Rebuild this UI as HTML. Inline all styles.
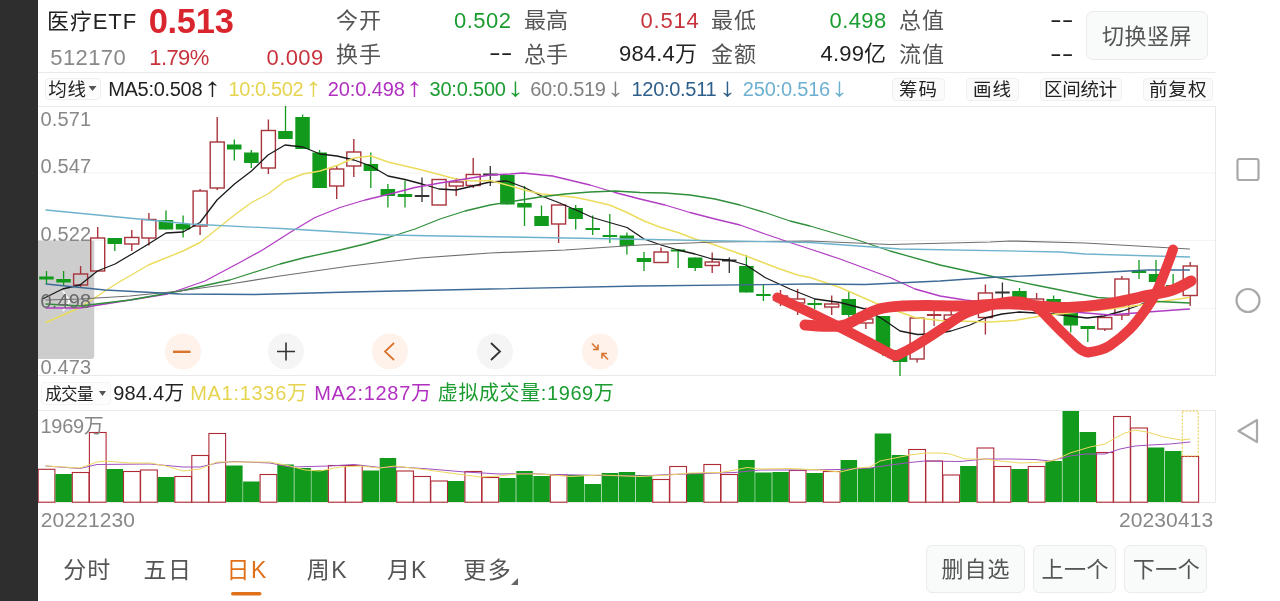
<!DOCTYPE html>
<html lang="zh-CN"><head><meta charset="utf-8"><title>医疗ETF 512170</title>
<style>
html,body{margin:0;padding:0;}
body{width:1280px;height:601px;overflow:hidden;background:#fff;position:relative;font-family:"Liberation Sans","Noto Sans CJK SC",sans-serif;color:#222;}
.bar{position:absolute;left:0;top:0;width:38px;height:601px;background:#2e2e2e;}
.chart{position:absolute;left:0;top:0;}
.t{position:absolute;white-space:nowrap;line-height:1;}
.r{text-align:right;}
.btn{position:absolute;box-sizing:border-box;border:1px solid #ececec;border-radius:5px;background:#fafafa;color:#222;text-align:center;white-space:nowrap;}
.red{color:#d0303a;}.green{color:#1b9c30;}.gray{color:#8a8a8a;}.dg{color:#555;}
</style></head>
<body>
<div class="btn" style="left:1086px;top:11px;width:121.5px;height:49px;border-radius:7px;background:#f9fafa;border-color:#ebebeb;"></div>
<div class="btn" style="left:44.5px;top:77.5px;width:56.5px;height:22.0px;border-radius:4px;background:#fcfcfc;border-color:#eeeeee;"></div>
<div class="btn" style="left:892px;top:78px;width:52.5px;height:23px;border-radius:4px;background:#fbfbfb;border-color:#f0f0f0;"></div>
<div class="btn" style="left:965.5px;top:78px;width:53.5px;height:23px;border-radius:4px;background:#fbfbfb;border-color:#f0f0f0;"></div>
<div class="btn" style="left:1040px;top:78px;width:82px;height:23px;border-radius:4px;background:#fbfbfb;border-color:#f0f0f0;"></div>
<div class="btn" style="left:1143px;top:78px;width:70px;height:23px;border-radius:4px;background:#fbfbfb;border-color:#f0f0f0;"></div>
<div class="btn" style="left:40.5px;top:381.5px;width:70.0px;height:23.5px;border-radius:4px;background:#fdfdfd;border-color:#f4f4f4;"></div>
<div class="btn" style="left:926.25px;top:545px;width:98.25px;height:47.5px;border-radius:6px;background:#f9fafa;border-color:#ebebeb;"></div>
<div class="btn" style="left:1033.25px;top:545px;width:82.25px;height:47.5px;border-radius:6px;background:#f9fafa;border-color:#ebebeb;"></div>
<div class="btn" style="left:1124.25px;top:545px;width:82.75px;height:47.5px;border-radius:6px;background:#f9fafa;border-color:#ebebeb;"></div>
<svg class="chart" width="1280" height="601" viewBox="0 0 1280 601">
<g stroke="#e9e9e9" stroke-width="1" fill="none">
<line x1="38" y1="72.5" x2="1215.5" y2="72.5"/>
<line x1="38" y1="106.5" x2="1215.5" y2="106.5"/>
<line x1="38" y1="173" x2="1215.5" y2="173" stroke="#f3f3f3"/>
<line x1="38" y1="240.5" x2="1215.5" y2="240.5" stroke="#f3f3f3"/>
<line x1="38" y1="308.5" x2="1215.5" y2="308.5" stroke="#f3f3f3"/>
<line x1="38" y1="375.5" x2="1215.5" y2="375.5"/>
<line x1="38" y1="410.5" x2="1215.5" y2="410.5"/>
<line x1="38" y1="502.5" x2="1215.5" y2="502.5"/>
<line x1="1215.5" y1="106.5" x2="1215.5" y2="375.5"/>
<line x1="1215.5" y1="410.5" x2="1215.5" y2="502.5"/>
</g>
<path d="M38,240.5 H94.2 V356 Q94.2,359 91.2,359 H38 Z" fill="#cdcdcd"/>
<polyline points="63,291 69.6,301 63,311" fill="none" stroke="#fff" stroke-width="1.6"/>
<g>
<line x1="46.5" y1="271" x2="46.5" y2="284" stroke="#119a1c" stroke-width="1.3"/>
<rect x="39.2" y="276.5" width="14.5" height="3.0" fill="#119a1c"/>
<line x1="63.6" y1="271" x2="63.6" y2="286" stroke="#119a1c" stroke-width="1.3"/>
<rect x="56.3" y="279" width="14.5" height="3.5" fill="#119a1c"/>
<line x1="80.6" y1="266" x2="80.6" y2="274" stroke="#a8343c" stroke-width="1.4"/>
<line x1="80.6" y1="285" x2="80.6" y2="287" stroke="#a8343c" stroke-width="1.4"/>
<rect x="73.6" y="274" width="14" height="11.0" fill="none" stroke="#a8343c" stroke-width="1.4"/>
<line x1="97.7" y1="227" x2="97.7" y2="238" stroke="#a8343c" stroke-width="1.4"/>
<line x1="97.7" y1="271" x2="97.7" y2="271" stroke="#a8343c" stroke-width="1.4"/>
<rect x="90.7" y="238" width="14" height="33.0" fill="none" stroke="#a8343c" stroke-width="1.4"/>
<line x1="114.8" y1="238" x2="114.8" y2="251" stroke="#119a1c" stroke-width="1.3"/>
<rect x="107.5" y="238" width="14.5" height="6.0" fill="#119a1c"/>
<line x1="131.8" y1="230" x2="131.8" y2="237.5" stroke="#a8343c" stroke-width="1.4"/>
<line x1="131.8" y1="244" x2="131.8" y2="251" stroke="#a8343c" stroke-width="1.4"/>
<rect x="124.8" y="237.5" width="14" height="6.5" fill="none" stroke="#a8343c" stroke-width="1.4"/>
<line x1="148.9" y1="213" x2="148.9" y2="219.5" stroke="#a8343c" stroke-width="1.4"/>
<line x1="148.9" y1="238" x2="148.9" y2="245.5" stroke="#a8343c" stroke-width="1.4"/>
<rect x="141.9" y="219.5" width="14" height="18.5" fill="none" stroke="#a8343c" stroke-width="1.4"/>
<line x1="166.0" y1="210.5" x2="166.0" y2="229.5" stroke="#119a1c" stroke-width="1.3"/>
<rect x="158.7" y="220" width="14.5" height="9.5" fill="#119a1c"/>
<line x1="183.1" y1="215.5" x2="183.1" y2="237.5" stroke="#119a1c" stroke-width="1.3"/>
<rect x="175.8" y="224" width="14.5" height="5.5" fill="#119a1c"/>
<line x1="200.1" y1="189" x2="200.1" y2="191" stroke="#a8343c" stroke-width="1.4"/>
<line x1="200.1" y1="226" x2="200.1" y2="235" stroke="#a8343c" stroke-width="1.4"/>
<rect x="193.1" y="191" width="14" height="35.0" fill="none" stroke="#a8343c" stroke-width="1.4"/>
<line x1="217.2" y1="117" x2="217.2" y2="142" stroke="#a8343c" stroke-width="1.4"/>
<line x1="217.2" y1="188" x2="217.2" y2="190" stroke="#a8343c" stroke-width="1.4"/>
<rect x="210.2" y="142" width="14" height="46.0" fill="none" stroke="#a8343c" stroke-width="1.4"/>
<line x1="234.3" y1="139.5" x2="234.3" y2="160.5" stroke="#119a1c" stroke-width="1.3"/>
<rect x="227.0" y="144.5" width="14.5" height="5.0" fill="#119a1c"/>
<line x1="251.3" y1="150" x2="251.3" y2="168" stroke="#119a1c" stroke-width="1.3"/>
<rect x="244.1" y="152.5" width="14.5" height="10.5" fill="#119a1c"/>
<line x1="268.4" y1="119.5" x2="268.4" y2="130.5" stroke="#a8343c" stroke-width="1.4"/>
<line x1="268.4" y1="168" x2="268.4" y2="174" stroke="#a8343c" stroke-width="1.4"/>
<rect x="261.4" y="130.5" width="14" height="37.5" fill="none" stroke="#a8343c" stroke-width="1.4"/>
<line x1="285.5" y1="106" x2="285.5" y2="139" stroke="#119a1c" stroke-width="1.3"/>
<rect x="278.2" y="131" width="14.5" height="8.0" fill="#119a1c"/>
<line x1="302.6" y1="114.5" x2="302.6" y2="149" stroke="#119a1c" stroke-width="1.3"/>
<rect x="295.3" y="117" width="14.5" height="32.0" fill="#119a1c"/>
<line x1="319.6" y1="150" x2="319.6" y2="188" stroke="#119a1c" stroke-width="1.3"/>
<rect x="312.4" y="152.5" width="14.5" height="35.5" fill="#119a1c"/>
<line x1="336.7" y1="166" x2="336.7" y2="169" stroke="#a8343c" stroke-width="1.4"/>
<line x1="336.7" y1="186" x2="336.7" y2="199" stroke="#a8343c" stroke-width="1.4"/>
<rect x="329.7" y="169" width="14" height="17.0" fill="none" stroke="#a8343c" stroke-width="1.4"/>
<line x1="353.8" y1="139" x2="353.8" y2="152" stroke="#a8343c" stroke-width="1.4"/>
<line x1="353.8" y1="166" x2="353.8" y2="177" stroke="#a8343c" stroke-width="1.4"/>
<rect x="346.8" y="152" width="14" height="14.0" fill="none" stroke="#a8343c" stroke-width="1.4"/>
<line x1="370.8" y1="152.5" x2="370.8" y2="188" stroke="#119a1c" stroke-width="1.3"/>
<rect x="363.6" y="164" width="14.5" height="7.0" fill="#119a1c"/>
<line x1="387.9" y1="184" x2="387.9" y2="207.5" stroke="#119a1c" stroke-width="1.3"/>
<rect x="380.6" y="189" width="14.5" height="7.0" fill="#119a1c"/>
<line x1="405.0" y1="180.5" x2="405.0" y2="207.5" stroke="#119a1c" stroke-width="1.3"/>
<rect x="397.7" y="194" width="14.5" height="3.0" fill="#119a1c"/>
<line x1="422.0" y1="177.5" x2="422.0" y2="202" stroke="#333333" stroke-width="1.3"/>
<rect x="414.8" y="195" width="14.5" height="2.0" fill="#333333"/>
<line x1="439.1" y1="179.5" x2="439.1" y2="179.5" stroke="#a8343c" stroke-width="1.4"/>
<line x1="439.1" y1="205" x2="439.1" y2="205" stroke="#a8343c" stroke-width="1.4"/>
<rect x="432.1" y="179.5" width="14" height="25.5" fill="none" stroke="#a8343c" stroke-width="1.4"/>
<line x1="456.2" y1="178" x2="456.2" y2="182" stroke="#a8343c" stroke-width="1.4"/>
<line x1="456.2" y1="186" x2="456.2" y2="196" stroke="#a8343c" stroke-width="1.4"/>
<rect x="449.2" y="182" width="14" height="4.0" fill="none" stroke="#a8343c" stroke-width="1.4"/>
<line x1="473.2" y1="158" x2="473.2" y2="174.5" stroke="#a8343c" stroke-width="1.4"/>
<line x1="473.2" y1="185.5" x2="473.2" y2="188" stroke="#a8343c" stroke-width="1.4"/>
<rect x="466.2" y="174.5" width="14" height="11.0" fill="none" stroke="#a8343c" stroke-width="1.4"/>
<line x1="490.3" y1="166" x2="490.3" y2="186" stroke="#333333" stroke-width="1.3"/>
<rect x="483.1" y="173.5" width="14.5" height="2.0" fill="#333333"/>
<line x1="507.4" y1="175" x2="507.4" y2="204.5" stroke="#119a1c" stroke-width="1.3"/>
<rect x="500.1" y="175" width="14.5" height="29.5" fill="#119a1c"/>
<line x1="524.5" y1="186" x2="524.5" y2="226" stroke="#119a1c" stroke-width="1.3"/>
<rect x="517.2" y="203" width="14.5" height="4.5" fill="#119a1c"/>
<line x1="541.5" y1="205.5" x2="541.5" y2="226" stroke="#119a1c" stroke-width="1.3"/>
<rect x="534.3" y="216" width="14.5" height="10.0" fill="#119a1c"/>
<line x1="558.6" y1="205" x2="558.6" y2="205" stroke="#a8343c" stroke-width="1.4"/>
<line x1="558.6" y1="224" x2="558.6" y2="243" stroke="#a8343c" stroke-width="1.4"/>
<rect x="551.6" y="205" width="14" height="19.0" fill="none" stroke="#a8343c" stroke-width="1.4"/>
<line x1="575.7" y1="205" x2="575.7" y2="229.5" stroke="#119a1c" stroke-width="1.3"/>
<rect x="568.4" y="208" width="14.5" height="11.0" fill="#119a1c"/>
<line x1="592.7" y1="215.5" x2="592.7" y2="235" stroke="#119a1c" stroke-width="1.3"/>
<rect x="585.5" y="228" width="14.5" height="2.0" fill="#119a1c"/>
<line x1="609.8" y1="214" x2="609.8" y2="243" stroke="#119a1c" stroke-width="1.3"/>
<rect x="602.6" y="235" width="14.5" height="2.0" fill="#119a1c"/>
<line x1="626.9" y1="232.5" x2="626.9" y2="254.5" stroke="#119a1c" stroke-width="1.3"/>
<rect x="619.6" y="235.5" width="14.5" height="10.5" fill="#119a1c"/>
<line x1="644.0" y1="252" x2="644.0" y2="271" stroke="#119a1c" stroke-width="1.3"/>
<rect x="636.7" y="258" width="14.5" height="4.0" fill="#119a1c"/>
<line x1="661.0" y1="247.5" x2="661.0" y2="252" stroke="#a8343c" stroke-width="1.4"/>
<line x1="661.0" y1="262.5" x2="661.0" y2="262.5" stroke="#a8343c" stroke-width="1.4"/>
<rect x="654.0" y="252" width="14" height="10.5" fill="none" stroke="#a8343c" stroke-width="1.4"/>
<line x1="678.1" y1="249.5" x2="678.1" y2="268" stroke="#119a1c" stroke-width="1.3"/>
<rect x="670.8" y="249.5" width="14.5" height="2.0" fill="#119a1c"/>
<line x1="695.2" y1="257.5" x2="695.2" y2="271" stroke="#119a1c" stroke-width="1.3"/>
<rect x="687.9" y="257.5" width="14.5" height="10.5" fill="#119a1c"/>
<line x1="712.2" y1="252.5" x2="712.2" y2="262" stroke="#a8343c" stroke-width="1.4"/>
<line x1="712.2" y1="265.5" x2="712.2" y2="273" stroke="#a8343c" stroke-width="1.4"/>
<rect x="705.2" y="262" width="14" height="3.5" fill="none" stroke="#a8343c" stroke-width="1.4"/>
<line x1="729.3" y1="257.5" x2="729.3" y2="273" stroke="#333333" stroke-width="1.3"/>
<rect x="722.0" y="259.5" width="14.5" height="2.0" fill="#333333"/>
<line x1="746.4" y1="255" x2="746.4" y2="292.5" stroke="#119a1c" stroke-width="1.3"/>
<rect x="739.1" y="266" width="14.5" height="26.5" fill="#119a1c"/>
<line x1="763.4" y1="285" x2="763.4" y2="301" stroke="#119a1c" stroke-width="1.3"/>
<rect x="756.2" y="294" width="14.5" height="2.0" fill="#119a1c"/>
<line x1="780.5" y1="290" x2="780.5" y2="296" stroke="#a8343c" stroke-width="1.4"/>
<line x1="780.5" y1="300" x2="780.5" y2="306" stroke="#a8343c" stroke-width="1.4"/>
<rect x="773.5" y="296" width="14" height="4.0" fill="none" stroke="#a8343c" stroke-width="1.4"/>
<line x1="797.6" y1="289" x2="797.6" y2="299" stroke="#a8343c" stroke-width="1.4"/>
<line x1="797.6" y1="303" x2="797.6" y2="315" stroke="#a8343c" stroke-width="1.4"/>
<rect x="790.6" y="299" width="14" height="4.0" fill="none" stroke="#a8343c" stroke-width="1.4"/>
<line x1="814.6" y1="299" x2="814.6" y2="309" stroke="#119a1c" stroke-width="1.3"/>
<rect x="807.4" y="303" width="14.5" height="2.0" fill="#119a1c"/>
<line x1="831.7" y1="295.5" x2="831.7" y2="304" stroke="#a8343c" stroke-width="1.4"/>
<line x1="831.7" y1="307" x2="831.7" y2="315" stroke="#a8343c" stroke-width="1.4"/>
<rect x="824.7" y="304" width="14" height="3.0" fill="none" stroke="#a8343c" stroke-width="1.4"/>
<line x1="848.8" y1="291" x2="848.8" y2="317.5" stroke="#119a1c" stroke-width="1.3"/>
<rect x="841.5" y="299" width="14.5" height="16.0" fill="#119a1c"/>
<line x1="865.9" y1="307.5" x2="865.9" y2="319" stroke="#a8343c" stroke-width="1.4"/>
<line x1="865.9" y1="323" x2="865.9" y2="329" stroke="#a8343c" stroke-width="1.4"/>
<rect x="858.9" y="319" width="14" height="4.0" fill="none" stroke="#a8343c" stroke-width="1.4"/>
<line x1="882.9" y1="316" x2="882.9" y2="356" stroke="#119a1c" stroke-width="1.3"/>
<rect x="875.7" y="316" width="14.5" height="32.0" fill="#119a1c"/>
<line x1="900.0" y1="350" x2="900.0" y2="376" stroke="#119a1c" stroke-width="1.3"/>
<rect x="892.8" y="350" width="14.5" height="12.0" fill="#119a1c"/>
<line x1="917.1" y1="318" x2="917.1" y2="318" stroke="#a8343c" stroke-width="1.4"/>
<line x1="917.1" y1="359" x2="917.1" y2="362.5" stroke="#a8343c" stroke-width="1.4"/>
<rect x="910.1" y="318" width="14" height="41.0" fill="none" stroke="#a8343c" stroke-width="1.4"/>
<line x1="934.1" y1="310.5" x2="934.1" y2="326" stroke="#a8343c" stroke-width="1.3"/>
<rect x="926.9" y="314" width="14.5" height="2.0" fill="#a8343c"/>
<line x1="951.2" y1="311" x2="951.2" y2="315" stroke="#a8343c" stroke-width="1.4"/>
<line x1="951.2" y1="319.5" x2="951.2" y2="319.5" stroke="#a8343c" stroke-width="1.4"/>
<rect x="944.2" y="315" width="14" height="4.5" fill="none" stroke="#a8343c" stroke-width="1.4"/>
<line x1="968.3" y1="308" x2="968.3" y2="315" stroke="#119a1c" stroke-width="1.3"/>
<rect x="961.0" y="310" width="14.5" height="5.0" fill="#119a1c"/>
<line x1="985.4" y1="284.5" x2="985.4" y2="293" stroke="#a8343c" stroke-width="1.4"/>
<line x1="985.4" y1="317.5" x2="985.4" y2="334.5" stroke="#a8343c" stroke-width="1.4"/>
<rect x="978.4" y="293" width="14" height="24.5" fill="none" stroke="#a8343c" stroke-width="1.4"/>
<line x1="1002.4" y1="282.5" x2="1002.4" y2="298" stroke="#333333" stroke-width="1.3"/>
<rect x="995.2" y="291.5" width="14.5" height="2.0" fill="#333333"/>
<line x1="1019.5" y1="288" x2="1019.5" y2="300" stroke="#119a1c" stroke-width="1.3"/>
<rect x="1012.2" y="291" width="14.5" height="9.0" fill="#119a1c"/>
<line x1="1036.6" y1="293" x2="1036.6" y2="299" stroke="#a8343c" stroke-width="1.4"/>
<line x1="1036.6" y1="303" x2="1036.6" y2="305" stroke="#a8343c" stroke-width="1.4"/>
<rect x="1029.6" y="299" width="14" height="4.0" fill="none" stroke="#a8343c" stroke-width="1.4"/>
<line x1="1053.6" y1="295.5" x2="1053.6" y2="315" stroke="#119a1c" stroke-width="1.3"/>
<rect x="1046.4" y="299" width="14.5" height="3.5" fill="#119a1c"/>
<line x1="1070.7" y1="310" x2="1070.7" y2="332.5" stroke="#119a1c" stroke-width="1.3"/>
<rect x="1063.5" y="312.5" width="14.5" height="13.0" fill="#119a1c"/>
<line x1="1087.8" y1="326" x2="1087.8" y2="342" stroke="#119a1c" stroke-width="1.3"/>
<rect x="1080.5" y="326" width="14.5" height="3.0" fill="#119a1c"/>
<line x1="1104.8" y1="317.5" x2="1104.8" y2="317.5" stroke="#a8343c" stroke-width="1.4"/>
<line x1="1104.8" y1="329" x2="1104.8" y2="331" stroke="#a8343c" stroke-width="1.4"/>
<rect x="1097.8" y="317.5" width="14" height="11.5" fill="none" stroke="#a8343c" stroke-width="1.4"/>
<line x1="1121.9" y1="276" x2="1121.9" y2="279" stroke="#a8343c" stroke-width="1.4"/>
<line x1="1121.9" y1="315" x2="1121.9" y2="320" stroke="#a8343c" stroke-width="1.4"/>
<rect x="1114.9" y="279" width="14" height="36.0" fill="none" stroke="#a8343c" stroke-width="1.4"/>
<line x1="1139.0" y1="260" x2="1139.0" y2="279" stroke="#119a1c" stroke-width="1.3"/>
<rect x="1131.7" y="271" width="14.5" height="2.0" fill="#119a1c"/>
<line x1="1156.0" y1="260" x2="1156.0" y2="286" stroke="#119a1c" stroke-width="1.3"/>
<rect x="1148.8" y="274" width="14.5" height="8.0" fill="#119a1c"/>
<line x1="1173.1" y1="274" x2="1173.1" y2="289" stroke="#119a1c" stroke-width="1.3"/>
<rect x="1165.9" y="285" width="14.5" height="4.0" fill="#119a1c"/>
<line x1="1190.2" y1="262" x2="1190.2" y2="266" stroke="#a8343c" stroke-width="1.4"/>
<line x1="1190.2" y1="295.5" x2="1190.2" y2="306" stroke="#a8343c" stroke-width="1.4"/>
<rect x="1183.2" y="266" width="14" height="29.5" fill="none" stroke="#a8343c" stroke-width="1.4"/>
</g>
<g>
<polyline points="42.5,299.0 62.5,289.0 80.0,285.0 97.5,271.0 115.0,264.0 132.0,254.0 148.5,244.0 166.0,233.0 183.0,232.0 200.0,222.5 217.0,200.0 234.5,184.0 251.5,171.0 268.0,155.0 285.0,145.0 303.0,147.0 320.0,154.0 337.0,156.0 354.0,160.0 371.0,166.0 388.0,176.0 405.0,179.5 422.0,184.0 439.0,189.0 456.0,190.0 473.0,186.0 490.0,182.0 507.0,181.0 524.5,187.5 541.5,196.0 558.5,202.5 576.0,210.0 592.5,217.5 609.5,222.5 627.0,227.5 644.0,239.0 661.0,245.0 678.0,250.0 695.0,254.0 712.0,259.0 729.0,260.0 746.0,265.0 765.0,277.5 790.0,289.0 815.0,299.0 840.0,302.5 865.0,309.0 882.5,319.0 900.0,331.0 917.5,334.5 934.0,334.0 951.0,331.0 970.0,325.0 985.0,318.0 1002.0,314.0 1019.0,312.0 1036.0,313.0 1053.0,314.0 1070.0,316.0 1087.0,318.0 1104.0,316.0 1122.5,311.0 1140.0,305.0 1156.0,297.0 1173.0,291.0 1189.5,285.0" fill="none" stroke="#1a1a1a" stroke-width="1.3" stroke-linejoin="round" stroke-linecap="round" />
<polyline points="46.0,322.5 80.0,307.5 97.5,296.0 115.0,284.5 148.5,265.0 183.0,251.0 200.0,242.5 217.0,229.0 234.5,215.0 251.5,202.5 268.0,194.0 285.0,181.0 303.0,174.0 320.0,171.0 337.0,165.5 354.0,158.0 371.0,156.0 388.0,162.0 405.0,166.0 422.0,170.0 439.0,174.5 456.0,179.0 473.0,181.0 490.0,180.5 507.0,185.0 524.5,190.0 541.5,194.0 558.5,195.5 576.0,197.5 592.5,201.0 609.5,205.0 627.0,212.5 644.0,221.0 661.0,227.5 678.0,232.5 695.0,239.0 712.0,244.0 729.0,250.0 746.0,256.0 763.0,262.5 780.0,269.0 797.5,275.0 810.0,277.5 840.0,287.5 880.0,305.0 915.0,317.5 940.0,320.5 990.0,322.0 1015.0,320.5 1047.5,315.0 1080.0,312.0 1110.0,309.0 1140.0,305.0 1165.0,301.0 1189.5,297.5" fill="none" stroke="#ebdc5c" stroke-width="1.4" stroke-linejoin="round" stroke-linecap="round" />
<polyline points="46.0,308.0 80.0,308.0 130.0,300.0 167.5,294.0 205.0,281.0 242.5,261.0 262.5,250.0 290.0,232.5 315.0,217.5 340.0,207.5 365.0,200.0 390.0,194.0 415.0,187.5 440.0,183.0 465.0,179.0 490.0,175.0 510.0,174.0 522.5,173.0 552.5,176.0 590.0,185.0 615.0,192.5 640.0,199.0 665.0,205.0 690.0,212.5 715.0,219.0 740.0,225.0 765.0,234.0 790.0,242.5 810.0,249.0 840.0,259.0 890.0,277.5 915.0,289.0 940.0,296.0 965.0,300.0 1000.0,304.0 1040.0,308.0 1080.0,312.5 1110.0,315.0 1147.5,312.0 1189.5,309.0" fill="none" stroke="#b23cc4" stroke-width="1.3" stroke-linejoin="round" stroke-linecap="round" />
<polyline points="46.0,304.0 80.0,306.0 130.0,300.0 180.0,291.0 230.0,280.0 280.0,264.0 305.0,257.5 340.0,250.0 365.0,244.0 390.0,237.0 415.0,229.0 440.0,219.0 465.0,211.0 490.0,205.0 515.0,201.0 540.0,197.0 565.0,194.0 590.0,192.0 615.0,191.0 640.0,192.5 665.0,193.0 690.0,195.0 715.0,199.0 740.0,205.0 765.0,212.5 790.0,221.0 810.0,226.0 857.5,240.0 890.0,251.0 940.0,265.0 990.0,276.0 1040.0,286.0 1060.0,290.0 1097.5,297.5 1147.5,301.0 1189.5,303.0" fill="none" stroke="#2f8f3a" stroke-width="1.3" stroke-linejoin="round" stroke-linecap="round" />
<polyline points="46.0,300.0 80.0,299.0 130.0,296.0 180.0,291.0 230.0,284.0 280.0,276.0 350.0,266.0 420.0,258.0 490.0,253.0 565.0,250.0 640.0,245.0 715.0,242.0 810.0,241.0 890.0,244.5 990.0,242.0 1010.0,241.0 1085.0,243.0 1189.5,249.0" fill="none" stroke="#6e6e6e" stroke-width="1.2" stroke-linejoin="round" stroke-linecap="round" />
<polyline points="46.0,284.0 105.0,290.0 180.0,294.0 255.0,294.5 350.0,292.0 490.0,289.0 640.0,286.0 810.0,284.0 865.0,284.5 940.0,281.0 990.0,277.5 1035.0,275.5 1110.0,272.0 1147.5,270.0 1189.5,270.0" fill="none" stroke="#3d6a96" stroke-width="1.3" stroke-linejoin="round" stroke-linecap="round" />
<polyline points="46.0,210.0 190.0,224.0 290.0,229.0 390.0,235.0 440.0,236.0 510.0,237.0 650.0,239.5 810.0,242.5 900.0,249.0 1060.0,252.0 1085.0,254.0 1189.5,257.0" fill="none" stroke="#6fb2cc" stroke-width="1.3" stroke-linejoin="round" stroke-linecap="round" />
</g>
<g>
<rect x="38.2" y="469.3" width="16.7" height="32.9" fill="none" stroke="#b02a36" stroke-width="1.1"/>
<rect x="55.4" y="474" width="16.5" height="28.0" fill="#119a1c"/>
<rect x="72.3" y="472.5" width="16.7" height="29.7" fill="none" stroke="#b02a36" stroke-width="1.1"/>
<rect x="89.4" y="432.5" width="16.7" height="69.7" fill="none" stroke="#b02a36" stroke-width="1.1"/>
<rect x="106.6" y="469" width="16.5" height="33.0" fill="#119a1c"/>
<rect x="123.5" y="471.5" width="16.7" height="30.7" fill="none" stroke="#b02a36" stroke-width="1.1"/>
<rect x="140.6" y="470.0" width="16.7" height="32.2" fill="none" stroke="#b02a36" stroke-width="1.1"/>
<rect x="157.8" y="477" width="16.5" height="25.0" fill="#119a1c"/>
<rect x="174.8" y="476.5" width="16.7" height="25.7" fill="none" stroke="#b02a36" stroke-width="1.1"/>
<rect x="191.8" y="455.5" width="16.7" height="46.7" fill="none" stroke="#b02a36" stroke-width="1.1"/>
<rect x="208.9" y="433.5" width="16.7" height="68.7" fill="none" stroke="#b02a36" stroke-width="1.1"/>
<rect x="226.1" y="465.5" width="16.5" height="36.5" fill="#119a1c"/>
<rect x="243.1" y="481.5" width="16.5" height="20.5" fill="#119a1c"/>
<rect x="260.1" y="474.5" width="16.7" height="27.7" fill="none" stroke="#b02a36" stroke-width="1.1"/>
<rect x="277.3" y="464.5" width="16.5" height="37.5" fill="#119a1c"/>
<rect x="294.4" y="468" width="16.5" height="34.0" fill="#119a1c"/>
<rect x="311.4" y="470" width="16.5" height="32.0" fill="#119a1c"/>
<rect x="328.4" y="465.5" width="16.7" height="36.7" fill="none" stroke="#b02a36" stroke-width="1.1"/>
<rect x="345.5" y="465.5" width="16.7" height="36.7" fill="none" stroke="#b02a36" stroke-width="1.1"/>
<rect x="362.6" y="470.5" width="16.5" height="31.5" fill="#119a1c"/>
<rect x="379.7" y="458" width="16.5" height="44.0" fill="#119a1c"/>
<rect x="396.7" y="471.0" width="16.7" height="31.2" fill="none" stroke="#b02a36" stroke-width="1.1"/>
<rect x="413.7" y="476.5" width="16.7" height="25.7" fill="none" stroke="#b02a36" stroke-width="1.1"/>
<rect x="430.8" y="481.0" width="16.7" height="21.2" fill="none" stroke="#b02a36" stroke-width="1.1"/>
<rect x="448.0" y="481" width="16.5" height="21.0" fill="#119a1c"/>
<rect x="464.9" y="471.5" width="16.7" height="30.7" fill="none" stroke="#b02a36" stroke-width="1.1"/>
<rect x="482.0" y="477.5" width="16.7" height="24.7" fill="none" stroke="#b02a36" stroke-width="1.1"/>
<rect x="499.2" y="478" width="16.5" height="24.0" fill="#119a1c"/>
<rect x="516.3" y="471" width="16.5" height="31.0" fill="#119a1c"/>
<rect x="533.3" y="476" width="16.5" height="26.0" fill="#119a1c"/>
<rect x="550.3" y="475.0" width="16.7" height="27.2" fill="none" stroke="#b02a36" stroke-width="1.1"/>
<rect x="567.5" y="475" width="16.5" height="27.0" fill="#119a1c"/>
<rect x="584.5" y="484" width="16.5" height="18.0" fill="#119a1c"/>
<rect x="601.6" y="473" width="16.5" height="29.0" fill="#119a1c"/>
<rect x="618.7" y="472" width="16.5" height="30.0" fill="#119a1c"/>
<rect x="635.8" y="475" width="16.5" height="27.0" fill="#119a1c"/>
<rect x="652.7" y="479.5" width="16.7" height="22.7" fill="none" stroke="#b02a36" stroke-width="1.1"/>
<rect x="669.8" y="466.5" width="16.7" height="35.7" fill="none" stroke="#b02a36" stroke-width="1.1"/>
<rect x="687.0" y="473" width="16.5" height="29.0" fill="#119a1c"/>
<rect x="703.9" y="464.5" width="16.7" height="37.7" fill="none" stroke="#b02a36" stroke-width="1.1"/>
<rect x="721.0" y="474.5" width="16.7" height="27.7" fill="none" stroke="#b02a36" stroke-width="1.1"/>
<rect x="738.2" y="460" width="16.5" height="42.0" fill="#119a1c"/>
<rect x="755.2" y="472.5" width="16.5" height="29.5" fill="#119a1c"/>
<rect x="772.3" y="472" width="16.5" height="30.0" fill="#119a1c"/>
<rect x="789.3" y="470.5" width="16.7" height="31.7" fill="none" stroke="#b02a36" stroke-width="1.1"/>
<rect x="806.4" y="473" width="16.5" height="29.0" fill="#119a1c"/>
<rect x="823.4" y="471.5" width="16.7" height="30.7" fill="none" stroke="#b02a36" stroke-width="1.1"/>
<rect x="840.6" y="460" width="16.5" height="42.0" fill="#119a1c"/>
<rect x="857.7" y="468" width="16.5" height="34.0" fill="#119a1c"/>
<rect x="874.7" y="433.5" width="16.5" height="68.5" fill="#119a1c"/>
<rect x="891.8" y="455" width="16.5" height="47.0" fill="#119a1c"/>
<rect x="908.8" y="449.5" width="16.7" height="52.7" fill="none" stroke="#b02a36" stroke-width="1.1"/>
<rect x="925.8" y="461.0" width="16.7" height="41.2" fill="none" stroke="#b02a36" stroke-width="1.1"/>
<rect x="942.9" y="475.0" width="16.7" height="27.2" fill="none" stroke="#b02a36" stroke-width="1.1"/>
<rect x="960.1" y="466" width="16.5" height="36.0" fill="#119a1c"/>
<rect x="977.1" y="448.0" width="16.7" height="54.2" fill="none" stroke="#b02a36" stroke-width="1.1"/>
<rect x="994.1" y="466.5" width="16.7" height="35.7" fill="none" stroke="#b02a36" stroke-width="1.1"/>
<rect x="1011.3" y="469" width="16.5" height="33.0" fill="#119a1c"/>
<rect x="1028.3" y="466.5" width="16.7" height="35.7" fill="none" stroke="#b02a36" stroke-width="1.1"/>
<rect x="1045.4" y="461" width="16.5" height="41.0" fill="#119a1c"/>
<rect x="1062.5" y="411" width="16.5" height="91.0" fill="#119a1c"/>
<rect x="1079.6" y="432" width="16.5" height="70.0" fill="#119a1c"/>
<rect x="1096.5" y="452.5" width="16.7" height="49.7" fill="none" stroke="#b02a36" stroke-width="1.1"/>
<rect x="1113.6" y="416.5" width="16.7" height="85.7" fill="none" stroke="#b02a36" stroke-width="1.1"/>
<rect x="1130.7" y="428.0" width="16.7" height="74.2" fill="none" stroke="#b02a36" stroke-width="1.1"/>
<rect x="1147.8" y="447.5" width="16.5" height="54.5" fill="#119a1c"/>
<rect x="1164.9" y="451" width="16.5" height="51.0" fill="#119a1c"/>
<rect x="1181.9" y="456.5" width="16.7" height="45.7" fill="none" stroke="#b02a36" stroke-width="1.1"/>
<rect x="1182.3" y="411" width="15.9" height="45" fill="none" stroke="#e8c840" stroke-width="1" stroke-dasharray="2,1.5"/>
<polyline points="46.0,466.0 80.0,468.5 97.0,464.5 150.0,464.0 183.0,467.0 200.0,467.0 217.0,463.0 234.0,461.5 270.0,463.0 290.0,467.0 330.0,466.0 354.0,464.5 380.0,467.5 400.0,467.0 430.0,469.0 465.0,472.0 500.0,474.0 530.0,473.5 550.0,474.5 580.0,475.0 600.0,475.5 640.0,476.0 670.0,474.5 700.0,473.5 735.0,472.5 760.0,470.0 800.0,470.0 840.0,469.5 870.0,468.0 890.0,465.0 910.0,462.5 925.0,461.0 960.0,461.5 985.0,459.0 1010.0,459.0 1035.0,459.5 1050.0,461.0 1070.0,456.0 1085.0,454.0 1105.0,454.0 1120.0,449.0 1135.0,446.0 1150.0,445.0 1170.0,444.0 1190.0,442.0" fill="none" stroke="#a050c0" stroke-width="1" stroke-linejoin="round" stroke-linecap="round" />
<polyline points="46.0,466.0 80.0,468.0 97.0,462.0 105.0,461.0 130.0,463.0 150.0,463.0 166.0,466.0 183.0,471.0 200.0,469.0 217.0,462.0 234.0,462.0 270.0,462.0 290.0,466.0 305.0,470.0 320.0,471.0 340.0,467.0 360.0,466.0 380.0,468.0 395.0,466.0 420.0,469.0 450.0,473.0 480.0,477.0 500.0,476.0 515.0,474.0 540.0,474.0 570.0,476.5 600.0,475.0 640.0,476.5 670.0,475.0 690.0,473.0 720.0,472.5 735.0,470.0 747.0,467.5 760.0,469.0 790.0,468.5 820.0,470.0 840.0,472.0 857.0,468.0 870.0,467.0 880.0,461.0 900.0,457.0 910.0,455.0 925.0,453.0 940.0,453.0 950.0,454.0 965.0,459.0 985.0,459.0 1000.0,461.0 1020.0,463.0 1045.0,462.0 1055.0,460.0 1070.0,453.0 1090.0,447.0 1105.0,444.0 1115.0,438.0 1125.0,433.0 1135.0,430.0 1147.0,432.0 1164.0,437.0 1181.0,440.0 1190.0,439.0" fill="none" stroke="#ecd860" stroke-width="1" stroke-linejoin="round" stroke-linecap="round" />
</g>
<g fill="none" stroke="#e93d41" stroke-linecap="round" stroke-linejoin="round">
<path d="M777.5,297.5 C783.8,300.4 802.5,309.0 815.0,315.0 C827.5,321.0 840.0,327.3 852.5,333.8 C865.0,340.2 882.8,349.8 890.0,353.5 C897.2,357.2 895.0,355.6 896.0,356.0 C899.2,354.3 907.7,350.3 915.0,346.0 C922.3,341.7 931.7,335.4 940.0,330.0 C948.3,324.6 956.7,317.8 965.0,313.8 C973.3,309.7 982.5,307.5 990.0,305.5 C997.5,303.5 1003.8,301.9 1010.0,301.5 C1016.2,301.1 1022.5,301.6 1027.5,303.0 C1032.5,304.4 1036.2,307.2 1040.0,310.0 C1043.8,312.8 1045.8,315.8 1050.0,320.0 C1054.2,324.2 1060.0,330.2 1065.0,335.0 C1070.0,339.8 1076.2,346.1 1080.0,349.0 C1083.8,351.9 1086.2,351.9 1087.5,352.5 C1089.2,352.2 1094.2,351.7 1098.0,350.5 C1101.8,349.3 1104.7,349.1 1110.0,345.5 C1115.3,341.9 1124.0,335.1 1130.0,329.0 C1136.0,322.9 1141.7,315.0 1146.0,309.0 C1150.3,303.0 1153.0,298.8 1156.0,293.0 C1159.0,287.2 1161.7,279.8 1164.0,274.0 C1166.3,268.2 1168.5,262.1 1170.0,258.0 C1171.5,253.9 1172.5,250.9 1173.0,249.5" stroke-width="10"/>
<path d="M805.0,325.0 C810.8,325.2 830.8,327.2 840.0,326.0 C849.2,324.8 853.3,320.4 860.0,317.5 C866.7,314.6 872.9,310.7 880.0,308.8 C887.1,306.8 894.6,306.5 902.5,306.0 C910.4,305.5 917.1,305.5 927.5,305.5 C937.9,305.5 951.2,306.3 965.0,306.0 C978.8,305.7 994.2,303.5 1010.0,303.8 C1025.8,304.0 1045.4,307.3 1060.0,307.5 C1074.6,307.7 1087.1,306.1 1097.5,305.0 C1107.9,303.9 1114.2,302.6 1122.5,301.0 C1130.8,299.4 1139.2,297.3 1147.5,295.5 C1155.8,293.7 1165.2,292.4 1172.5,290.0 C1179.8,287.6 1187.9,282.5 1191.0,281.0" stroke-width="11"/>
</g>
<!-- circular controls -->
<g>
<circle cx="183" cy="351.5" r="18" fill="#fef2ea"/>
<line x1="173" y1="351.8" x2="190.5" y2="351.8" stroke="#d9742e" stroke-width="2.4"/>
<circle cx="286" cy="351.5" r="18" fill="#f5f5f5"/>
<path d="M277,351.5 H295 M286,342.5 V360.5" stroke="#333" stroke-width="1.6" fill="none"/>
<circle cx="390" cy="351.5" r="18" fill="#fef2ea"/>
<polyline points="394,343 385,351.5 394,360" stroke="#d9742e" stroke-width="1.8" fill="none"/>
<circle cx="495" cy="351.5" r="18" fill="#f5f5f5"/>
<polyline points="491,343 500,351.5 491,360" stroke="#333" stroke-width="1.8" fill="none"/>
<circle cx="600" cy="351.5" r="18" fill="#fef2ea"/>
<path d="M592,343.5 L598,349.5 M598,344.5 V349.5 H593 M608,359.5 L602,353.5 M602,358.5 V353.5 H607" stroke="#d9742e" stroke-width="1.6" fill="none"/>
</g>
<!-- android nav icons -->
<g fill="none" stroke="#a9a9a9" stroke-width="2.2">
<rect x="1237.5" y="159" width="21" height="21" rx="2"/>
<circle cx="1248" cy="300.5" r="11.5"/>
<path d="M1257,420 L1238.5,431 L1257,442 Z" stroke-linejoin="round"/>
</g>
<path d="M511,585 L518,585 L518,578 Z" fill="#666"/>
<path d="M88.6,86 L96.5,86 L92.55,91 Z" fill="#555"/>
<path d="M99,391 L106,391 L102.5,396 Z" fill="#555"/>
<rect x="231" y="592" width="30.5" height="3.6" rx="1.8" fill="#e0701a"/>
</svg>
<div class="bar"></div>
<div class="t" style="left:47.0px;top:11.1px;font-size:22.0px;color:#222222;letter-spacing:0.9px;">医疗ETF</div>
<div class="t" style="left:148.7px;top:4.3px;font-size:34.5px;color:#d9262e;letter-spacing:-0.3px;font-weight:700;">0.513</div>
<div class="t" style="left:50.3px;top:46.5px;font-size:22.0px;color:#888888;letter-spacing:0.4px;">512170</div>
<div class="t" style="left:149.3px;top:46.5px;font-size:22.0px;color:#c8323c;letter-spacing:-0.6px;">1.79%</div>
<div class="t" style="left:266.5px;top:46.5px;font-size:22.0px;color:#c8323c;letter-spacing:0.4px;">0.009</div>
<div class="t" style="left:336.0px;top:9.8px;font-size:22.0px;color:#555555;letter-spacing:1.0px;">今开</div>
<div class="t" style="left:336.0px;top:43.8px;font-size:22.0px;color:#555555;letter-spacing:1.0px;">换手</div>
<div class="t" style="left:524.0px;top:9.8px;font-size:22.0px;color:#555555;">最高</div>
<div class="t" style="left:524.0px;top:43.8px;font-size:22.0px;color:#555555;">总手</div>
<div class="t" style="left:711.0px;top:9.8px;font-size:22.0px;color:#555555;letter-spacing:1.0px;">最低</div>
<div class="t" style="left:711.0px;top:43.8px;font-size:22.0px;color:#555555;letter-spacing:1.0px;">金额</div>
<div class="t" style="left:899.0px;top:9.8px;font-size:22.0px;color:#555555;letter-spacing:1.0px;">总值</div>
<div class="t" style="left:899.0px;top:43.8px;font-size:22.0px;color:#555555;letter-spacing:1.0px;">流值</div>
<div class="t" style="left:454.0px;top:9.5px;font-size:22.0px;color:#1b9c30;letter-spacing:0.5px;">0.502</div>
<div class="t" style="left:640.5px;top:9.5px;font-size:22.0px;color:#c8323c;letter-spacing:0.8px;">0.514</div>
<div class="t" style="left:829.5px;top:9.5px;font-size:22.0px;color:#1b9c30;letter-spacing:0.4px;">0.498</div>
<div class="t" style="left:619.0px;top:43.2px;font-size:22.0px;color:#222222;letter-spacing:0.2px;">984.4万</div>
<div class="t" style="left:820.5px;top:43.2px;font-size:22.0px;color:#222222;letter-spacing:0.2px;">4.99亿</div>
<div class="t" style="left:1050.0px;top:8.5px;font-size:22.0px;color:#222222;transform:scaleX(1.6);transform-origin:0 50%;">--</div>
<div class="t" style="left:488.5px;top:42.3px;font-size:22.0px;color:#222222;transform:scaleX(1.6);transform-origin:0 50%;">--</div>
<div class="t" style="left:1050.0px;top:42.5px;font-size:22.0px;color:#222222;transform:scaleX(1.6);transform-origin:0 50%;">--</div>
<div class="t" style="left:48.3px;top:80.8px;font-size:18.5px;color:#222222;letter-spacing:0.7px;">均线</div>
<div class="t" style="left:108.2px;top:78.8px;font-size:20.0px;color:#222222;letter-spacing:-0.3px;">MA5:0.508</div>
<div class="t" style="left:206.2px;top:73.9px;font-size:26.0px;color:#222222;transform:scaleX(1.3);transform-origin:50% 50%;">↑</div>
<div class="t" style="left:228.5px;top:78.8px;font-size:20.0px;color:#e6d450;letter-spacing:-0.4px;">10:0.502</div>
<div class="t" style="left:307.2px;top:73.9px;font-size:26.0px;color:#e6d450;transform:scaleX(1.3);transform-origin:50% 50%;">↑</div>
<div class="t" style="left:327.8px;top:78.8px;font-size:20.0px;color:#b030c0;letter-spacing:-0.1px;">20:0.498</div>
<div class="t" style="left:408.2px;top:73.9px;font-size:26.0px;color:#b030c0;transform:scaleX(1.3);transform-origin:50% 50%;">↑</div>
<div class="t" style="left:429.5px;top:78.8px;font-size:20.0px;color:#1b9c30;letter-spacing:-0.2px;">30:0.500</div>
<div class="t" style="left:508.5px;top:73.9px;font-size:26.0px;color:#1b9c30;transform:scaleX(1.3);transform-origin:50% 50%;">↓</div>
<div class="t" style="left:530.2px;top:78.8px;font-size:20.0px;color:#808080;letter-spacing:-0.3px;">60:0.519</div>
<div class="t" style="left:609.2px;top:73.9px;font-size:26.0px;color:#808080;transform:scaleX(1.3);transform-origin:50% 50%;">↓</div>
<div class="t" style="left:631.5px;top:78.8px;font-size:20.0px;color:#2e5f8a;letter-spacing:-0.3px;">120:0.511</div>
<div class="t" style="left:721.2px;top:73.9px;font-size:26.0px;color:#2e5f8a;transform:scaleX(1.3);transform-origin:50% 50%;">↓</div>
<div class="t" style="left:742.8px;top:78.8px;font-size:20.0px;color:#6db0d0;letter-spacing:-0.2px;">250:0.516</div>
<div class="t" style="left:832.6px;top:73.9px;font-size:26.0px;color:#6db0d0;transform:scaleX(1.3);transform-origin:50% 50%;">↓</div>
<div class="t" style="left:899.0px;top:81.2px;font-size:18.5px;color:#222222;letter-spacing:1.0px;">筹码</div>
<div class="t" style="left:973.0px;top:81.2px;font-size:18.5px;color:#222222;letter-spacing:1.0px;">画线</div>
<div class="t" style="left:1044.0px;top:81.2px;font-size:18.5px;color:#222222;letter-spacing:-0.3px;">区间统计</div>
<div class="t" style="left:1149.0px;top:81.2px;font-size:18.5px;color:#222222;letter-spacing:1.0px;">前复权</div>
<div class="t" style="left:1102.0px;top:25.5px;font-size:22.0px;color:#555555;letter-spacing:0.5px;">切换竖屏</div>
<div class="t" style="left:40.4px;top:109.3px;font-size:20.0px;color:#888888;letter-spacing:0.2px;">0.571</div>
<div class="t" style="left:40.4px;top:156.3px;font-size:20.0px;color:#888888;letter-spacing:0.2px;">0.547</div>
<div class="t" style="left:40.4px;top:224.2px;font-size:20.0px;color:#888888;letter-spacing:0.2px;">0.522</div>
<div class="t" style="left:40.4px;top:291.4px;font-size:20.0px;color:#6a6a6a;letter-spacing:0.2px;">0.498</div>
<div class="t" style="left:40.4px;top:357.4px;font-size:20.0px;color:#888888;letter-spacing:0.2px;">0.473</div>
<div class="t" style="left:45.2px;top:385.8px;font-size:16.5px;color:#222222;letter-spacing:-0.6px;">成交量</div>
<div class="t" style="left:113.2px;top:383.2px;font-size:20.0px;color:#222222;letter-spacing:0.2px;">984.4万</div>
<div class="t" style="left:190.2px;top:383.2px;font-size:20.0px;color:#e6d450;letter-spacing:0.7px;">MA1:1336万</div>
<div class="t" style="left:314.2px;top:383.2px;font-size:20.0px;color:#b030c0;letter-spacing:0.7px;">MA2:1287万</div>
<div class="t" style="left:437.8px;top:383.2px;font-size:20.0px;color:#1b9c30;letter-spacing:0.6px;">虚拟成交量:1969万</div>
<div class="t" style="left:40.5px;top:416.0px;font-size:20.0px;color:#888888;letter-spacing:-0.3px;">1969万</div>
<div class="t" style="left:40.8px;top:509.0px;font-size:21.0px;color:#888888;letter-spacing:0.1px;">20221230</div>
<div class="t" style="left:1119.0px;top:509.0px;font-size:21.0px;color:#888888;letter-spacing:0.1px;">20230413</div>
<div class="t" style="left:63.2px;top:558.9px;font-size:23.0px;color:#555555;letter-spacing:1.0px;">分时</div>
<div class="t" style="left:143.4px;top:558.9px;font-size:23.0px;color:#555555;letter-spacing:1.5px;">五日</div>
<div class="t" style="left:226.5px;top:558.9px;font-size:23.0px;color:#e0701a;letter-spacing:1.5px;">日K</div>
<div class="t" style="left:306.8px;top:558.9px;font-size:23.0px;color:#555555;letter-spacing:1.5px;">周K</div>
<div class="t" style="left:387.0px;top:558.9px;font-size:23.0px;color:#555555;letter-spacing:1.0px;">月K</div>
<div class="t" style="left:463.2px;top:558.9px;font-size:23.0px;color:#555555;letter-spacing:1.5px;">更多</div>
<div class="t" style="left:941.6px;top:559.1px;font-size:22.0px;color:#555555;letter-spacing:1.0px;">删自选</div>
<div class="t" style="left:1041.5px;top:559.1px;font-size:22.0px;color:#555555;letter-spacing:0.5px;">上一个</div>
<div class="t" style="left:1132.8px;top:559.1px;font-size:22.0px;color:#555555;letter-spacing:0.5px;">下一个</div>
</body></html>
